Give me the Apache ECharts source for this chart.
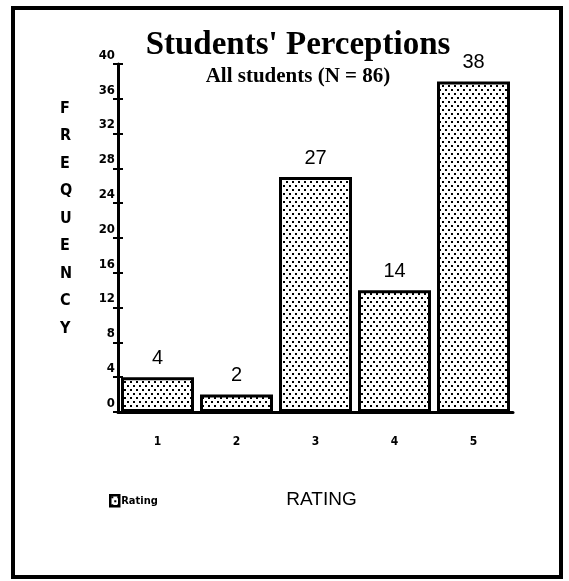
<!DOCTYPE html>
<html>
<head>
<meta charset="utf-8">
<script src="https://cdn.jsdelivr.net/npm/echarts@6/dist/echarts.min.js"></script>
<style>
  html, body { margin: 0; padding: 0; background: #fff; }
  #main { width: 569px; height: 581px; }
</style>
</head>
<body>
<div id="main"></div>
<script>
var ratings = ['1', '2', '3', '4', '5'];
var frequency = [4, 2, 27, 14, 38];
var yMin = 0, yMax = 40, yStep = 4;

var narrow = "'Liberation Sans Narrow', 'DejaVu Sans Condensed', sans-serif";
var serif = "'Liberation Serif', serif";

// dotted fill like the old stipple shading
var dots = document.createElement('canvas');
dots.width = 6;
dots.height = 8;
var ctx = dots.getContext('2d');
ctx.fillStyle = '#fff';
ctx.fillRect(0, 0, 6, 8);
ctx.fillStyle = '#000';
ctx.fillRect(1, 1, 2, 2);
ctx.fillRect(4, 5, 2, 2);

var myChart = echarts.init(document.getElementById('main'));

var option = {
    backgroundColor: '#fff',
    animation: false,
    title: [
        {
            text: "Students' Perceptions",
            left: 293,
            textAlign: 'center',
            top: 24,
            textStyle: { fontFamily: serif, fontWeight: 'bold', fontSize: 33, color: '#000' }
        },
        {
            text: 'All students (N = 86)',
            left: 293,
            textAlign: 'center',
            top: 61,
            textStyle: { fontFamily: serif, fontWeight: 'bold', fontSize: 21, color: '#000' }
        }
    ],
    legend: {
        left: 104,
        top: 489,
        itemWidth: 9,
        itemHeight: 11,
        itemGap: 2,
        data: ['Rating'],
        icon: 'rect',
        itemStyle: { borderColor: '#000', borderWidth: 2.5 },
        textStyle: { fontFamily: narrow, fontWeight: 'bold', fontSize: 11, color: '#000', padding: [0, 0, 0, -3] }
    },
    grid: { left: 118, right: 56, top: 64, bottom: 169 },
    xAxis: [
        {
            type: 'category',
            data: ratings,
            z: 5,
            name: 'RATING',
            nameLocation: 'middle',
            nameGap: 78,
            nameTextStyle: { fontFamily: 'Liberation Sans, sans-serif', fontSize: 19, color: '#000', padding: [0, 0, 0, 12] },
            axisLine: { lineStyle: { color: '#000', width: 3 } },
            axisTick: { alignWithLabel: true, length: 7, lineStyle: { color: '#000', width: 3 } },
            axisLabel: { margin: 24, fontFamily: narrow, fontWeight: 'bold', fontSize: 12, color: '#000' }
        },
        {
            type: 'category',
            data: ratings,
            position: 'bottom',
            z: 5,
            axisLine: { show: false },
            axisTick: { inside: true, alignWithLabel: true, length: 8, lineStyle: { color: '#000', width: 3 } },
            axisLabel: { show: false }
        }
    ],
    yAxis: [
        {
            type: 'value',
            min: yMin,
            max: yMax,
            interval: yStep,
            z: 5,
            splitLine: { show: false },
            axisLine: { show: true, lineStyle: { color: '#000', width: 3 } },
            axisTick: { show: true, length: 5, lineStyle: { color: '#000', width: 2 } },
            axisLabel: {
                margin: 3,
                verticalAlign: 'bottom',
                padding: [0, 0, 2, 0],
                fontFamily: narrow,
                fontWeight: 'bold',
                fontSize: 13,
                color: '#000'
            }
        },
        {
            type: 'value',
            min: yMin,
            max: yMax,
            interval: yStep,
            position: 'left',
            z: 5,
            splitLine: { show: false },
            axisLine: { show: false },
            axisTick: { show: true, inside: true, length: 5, lineStyle: { color: '#000', width: 2 } },
            axisLabel: { show: false }
        }
    ],
    graphic: [
        {
            type: 'rect',
            shape: { x: 13, y: 8, width: 548, height: 569 },
            style: { fill: 'none', stroke: '#000', lineWidth: 4 },
            silent: true
        },
        {
            type: 'text',
            left: 60,
            top: 95,
            style: {
                text: 'FREQUENCY'.split('').join('\n'),
                fontFamily: narrow,
                fontWeight: 'bold',
                fontSize: 16,
                lineHeight: 27.5,
                align: 'center',
                fill: '#000'
            }
        }
    ],
    series: [
        {
            name: 'Rating',
            type: 'bar',
            data: frequency,
            barWidth: 73,
            itemStyle: {
                color: { image: dots, repeat: 'repeat' },
                borderColor: '#000',
                borderWidth: 3
            },
            label: {
                show: true,
                position: 'top',
                distance: 9,
                fontFamily: 'Liberation Sans, sans-serif',
                fontSize: 20,
                color: '#000'
            }
        }
    ]
};

myChart.setOption(option);
</script>
</body>
</html>
